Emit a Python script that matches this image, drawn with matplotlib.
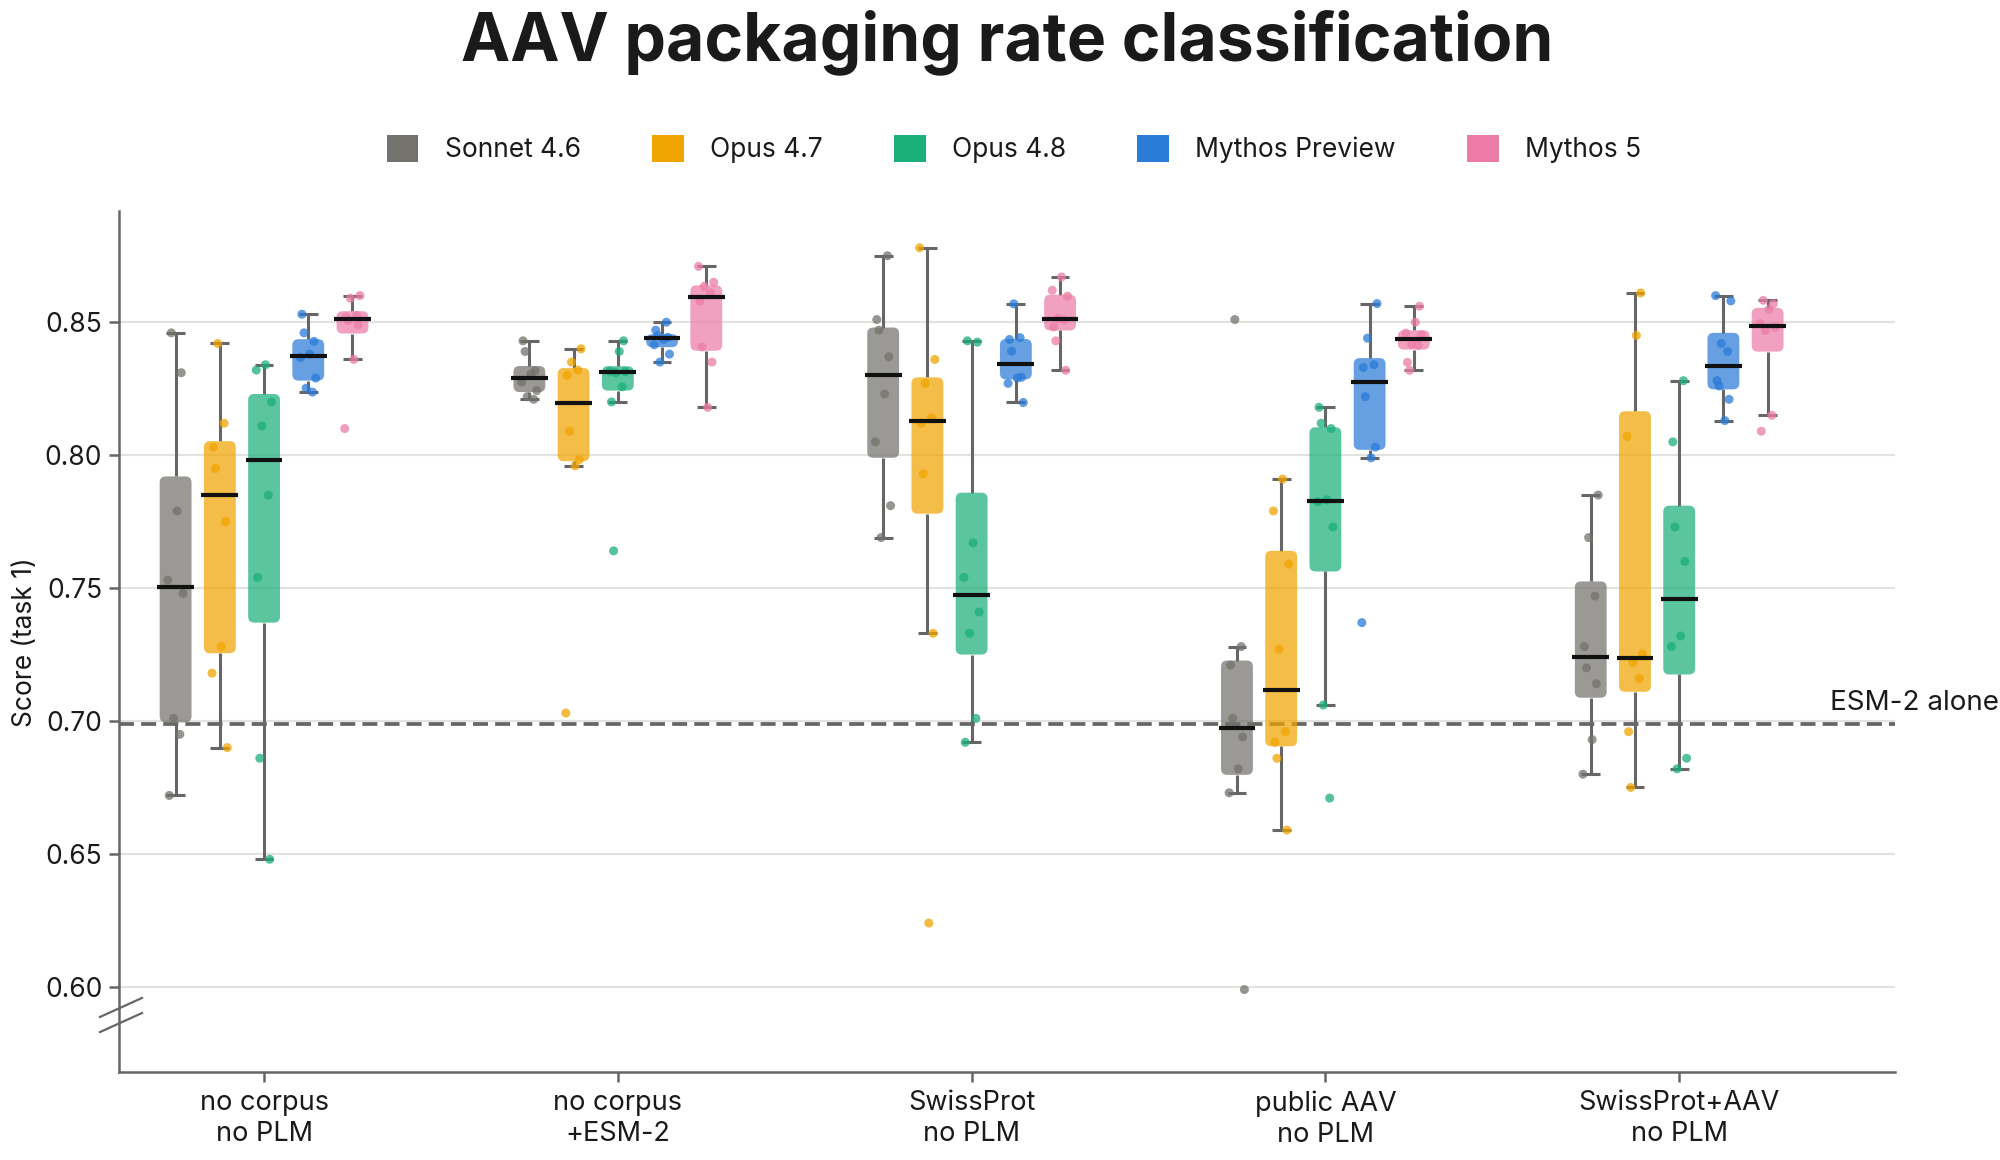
import matplotlib
matplotlib.use("Agg")
import matplotlib.pyplot as plt
from matplotlib.patches import FancyBboxPatch, Patch
from matplotlib.lines import Line2D
from matplotlib import cbook
import numpy as np

plt.rcParams['font.family'] = ['Inter', 'DejaVu Sans']

# --- data (8 runs per model per setting) ---
settings = ["no corpus\nno PLM", "no corpus\n+ESM-2", "SwissProt\nno PLM",
            "public AAV\nno PLM", "SwissProt+AAV\nno PLM"]
models = ["Sonnet 4.6", "Opus 4.7", "Opus 4.8", "Mythos Preview", "Mythos 5"]

sonnet_46 = [
    [0.672, 0.695, 0.701, 0.748, 0.753, 0.779, 0.831, 0.846],
    [0.821, 0.822, 0.8243, 0.8275, 0.8305, 0.8317, 0.839, 0.843],
    [0.769, 0.781, 0.805, 0.823, 0.837, 0.847, 0.851, 0.875],
    [0.599, 0.673, 0.682, 0.694, 0.701, 0.721, 0.728, 0.851],
    [0.680, 0.693, 0.714, 0.720, 0.728, 0.747, 0.769, 0.785],
]
opus_47 = [
    [0.690, 0.718, 0.728, 0.775, 0.795, 0.803, 0.812, 0.842],
    [0.703, 0.796, 0.7983, 0.809, 0.830, 0.832, 0.835, 0.840],
    [0.624, 0.733, 0.793, 0.812, 0.814, 0.827, 0.836, 0.878],
    [0.659, 0.686, 0.692, 0.696, 0.727, 0.759, 0.779, 0.791],
    [0.675, 0.696, 0.716, 0.722, 0.7252, 0.807, 0.845, 0.861],
]
opus_48 = [
    [0.648, 0.686, 0.754, 0.785, 0.811, 0.820, 0.832, 0.834],
    [0.764, 0.820, 0.8257, 0.831, 0.8314, 0.8316, 0.839, 0.843],
    [0.692, 0.701, 0.733, 0.741, 0.754, 0.767, 0.8425, 0.843],
    [0.671, 0.706, 0.773, 0.7825, 0.7832, 0.810, 0.812, 0.818],
    [0.682, 0.686, 0.728, 0.732, 0.760, 0.773, 0.805, 0.828],
]
mythos_preview = [
    [0.8237, 0.8252, 0.829, 0.8367, 0.838, 0.8428, 0.846, 0.853],
    [0.835, 0.838, 0.8415, 0.8435, 0.8443, 0.845, 0.847, 0.850],
    [0.8198, 0.827, 0.829, 0.8293, 0.8391, 0.8435, 0.8442, 0.8569],
    [0.737, 0.799, 0.803, 0.822, 0.833, 0.834, 0.844, 0.857],
    [0.813, 0.821, 0.826, 0.828, 0.839, 0.842, 0.858, 0.860],
]
mythos_5 = [
    [0.810, 0.836, 0.849, 0.8506, 0.852, 0.8525, 0.859, 0.860],
    [0.818, 0.835, 0.8407, 0.8579, 0.861, 0.8635, 0.865, 0.871],
    [0.8319, 0.843, 0.8482, 0.8508, 0.8514, 0.8598, 0.862, 0.867],
    [0.8319, 0.8349, 0.8413, 0.8417, 0.8453, 0.8459, 0.850, 0.856],
    [0.809, 0.815, 0.8469, 0.8481, 0.8494, 0.8549, 0.8569, 0.8582],
]
esm2_alone = 0.699

all_scores = [sonnet_46, opus_47, opus_48, mythos_preview, mythos_5]
colors = ['#73726C', '#F0A400', '#1BAF7A', '#2B7BD9', '#EC7CA7']

# fixed horizontal spread for the dots (not data)
spread = [-0.018, 0.012, -0.006, 0.021, -0.022, 0.004, 0.016, -0.012]

GRAY = '#666666'
TEXT = '#1a1a1a'

fig = plt.figure(figsize=(20, 11.6), dpi=100)
ax = fig.add_axes([0.0595, 0.0759, 0.888, 0.7426])

xlim = (-0.41, 4.61)
ylim = (0.568, 0.892)
ax.set_xlim(*xlim)
ax.set_ylim(*ylim)

# aspect used to keep the box corners round in screen space
pos = ax.get_position()
ax_w = pos.width * fig.get_figwidth() * fig.dpi
ax_h = pos.height * fig.get_figheight() * fig.dpi
m_aspect = ((ylim[1] - ylim[0]) / ax_h) / ((xlim[1] - xlim[0]) / ax_w)

offset = 0.125
box_w = 0.09
med_w = 0.104
cap_w = 0.053

for m, (scores, col) in enumerate(zip(all_scores, colors)):
    for g, vals in enumerate(scores):
        xc = g + (m - 2) * offset
        st = cbook.boxplot_stats(np.array(vals), whis=1.5)[0]
        # whiskers + caps
        ax.plot([xc, xc], [st['whislo'], st['q1']], color=GRAY, lw=2.2, zorder=2,
                solid_capstyle='butt')
        ax.plot([xc, xc], [st['q3'], st['whishi']], color=GRAY, lw=2.2, zorder=2,
                solid_capstyle='butt')
        for w in (st['whislo'], st['whishi']):
            ax.plot([xc - cap_w / 2, xc + cap_w / 2], [w, w], color=GRAY, lw=2.2,
                    zorder=2, solid_capstyle='butt')
        box = FancyBboxPatch((xc - box_w / 2, st['q1']), box_w, st['q3'] - st['q1'],
                             boxstyle="round,pad=0,rounding_size=0.017",
                             mutation_aspect=m_aspect, facecolor=col, alpha=0.72,
                             edgecolor='none', zorder=3)
        ax.add_patch(box)
        ax.plot([xc - med_w / 2, xc + med_w / 2], [st['med'], st['med']],
                color='#111111', lw=3.0, zorder=5, solid_capstyle='butt')
        sh = (m * 3 + g) % len(spread)
        xs = [xc + spread[(i + sh) % len(spread)] for i in range(len(vals))]
        ax.scatter(xs, vals, s=42, color=col, alpha=0.75, edgecolors='none', zorder=4)

# reference line
ax.axhline(esm2_alone, color=GRAY, lw=2.7, dashes=(4, 1.9), zorder=1.5)
fig.text(0.9995, 0.388, "ESM-2 alone", ha='right', va='baseline', fontsize=20, color=TEXT)

# axes styling
yticks = [0.60, 0.65, 0.70, 0.75, 0.80, 0.85]
ax.set_yticks(yticks)
ax.set_yticklabels([f"{t:.2f}" for t in yticks])
ax.set_xticks(range(len(settings)))
ax.set_xticklabels(settings, linespacing=1.25)
ax.yaxis.grid(True, color='#E2E2DE', lw=1.5, zorder=0)
ax.set_axisbelow(True)
for s in ('top', 'right'):
    ax.spines[s].set_visible(False)
for s in ('left', 'bottom'):
    ax.spines[s].set_color(GRAY)
    ax.spines[s].set_linewidth(1.8)
ax.tick_params(axis='y', length=7, width=1.8, color=GRAY, labelsize=19, labelcolor=TEXT, pad=5)
ax.tick_params(axis='x', length=7, width=1.8, color=GRAY, labelsize=19.5, labelcolor=TEXT, pad=6)

fig.text(0.006, 0.4466, "Score (task 1)", rotation=90, ha='left', va='center',
         fontsize=19, color=TEXT)

# axis break marks
for dy in (0.0, -0.013):
    fig.add_artist(Line2D([0.050, 0.071], [0.1233 + dy, 0.1397 + dy],
                          color=GRAY, lw=1.6, transform=fig.transFigure))

# legend
handles = [Patch(facecolor=c, edgecolor='none', label=n) for c, n in zip(colors, models)]
fig.legend(handles=handles, loc='center', bbox_to_anchor=(0.507, 0.8716), ncol=5,
           frameon=False, fontsize=19, handlelength=1.2, handleheight=1.2,
           handletextpad=1.0, columnspacing=2.7, labelcolor=TEXT)

fig.text(0.5035, 0.964, "AAV packaging rate classification", ha='center', va='center',
         fontsize=47.5, fontweight='bold', color=TEXT)

fig.savefig("out.png", dpi=100)
